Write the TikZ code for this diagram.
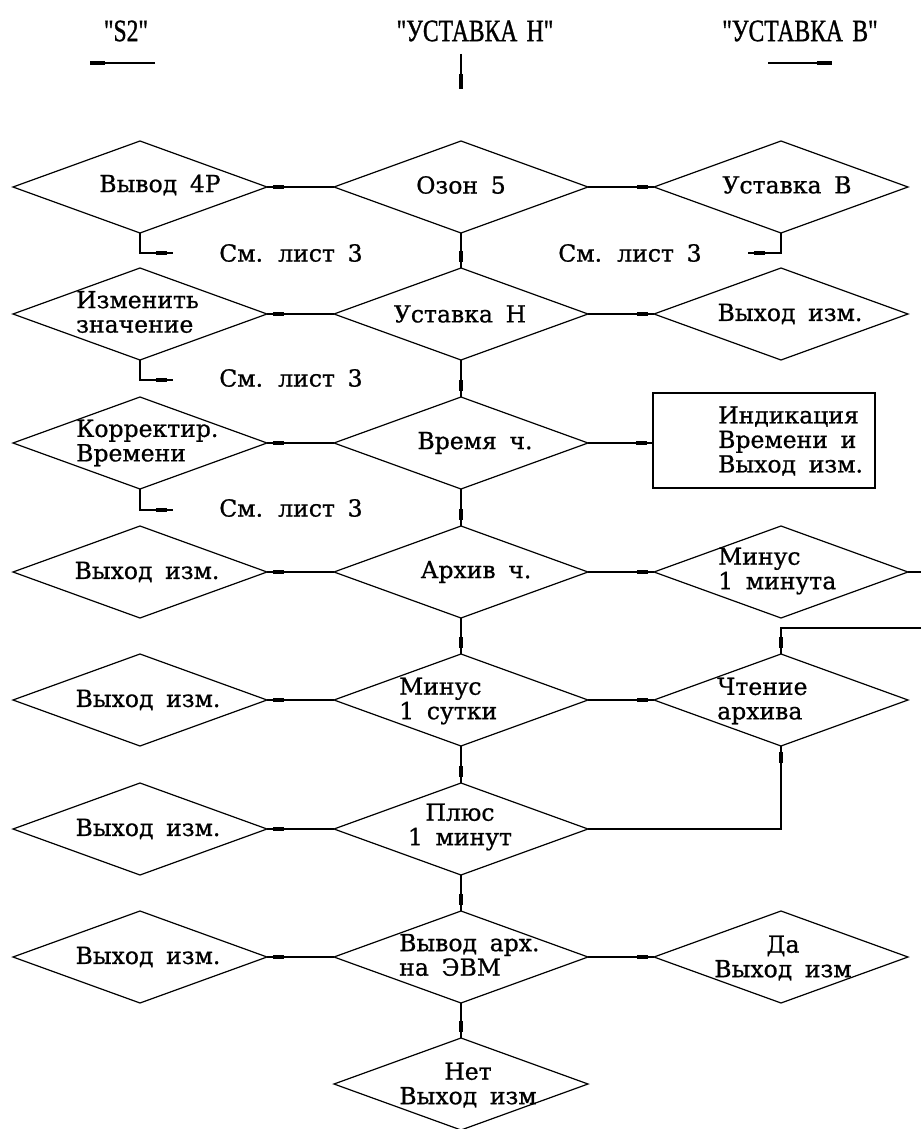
\documentclass[tikz,border=0pt]{standalone}
\usepackage{fontspec}
\setmainfont{DejaVu Serif}[WordSpace=1.7,FakeBold=0.8]
\newfontfamily\toplab{Liberation Serif}[FakeStretch=0.76,WordSpace=1.6,FakeBold=1]
\usetikzlibrary{shapes.geometric,decorations.markings}
\begin{document}
\begin{tikzpicture}[x=1pt,y=-1pt,
  dia/.style={draw, diamond, minimum width=254pt, minimum height=92pt, inner sep=0pt, outer sep=0pt, line width=1.2pt},
  boxn/.style={draw, rectangle, minimum width=222pt, minimum height=95pt, inner sep=0pt, outer sep=0pt, line width=1.2pt},
  txt/.style={inner sep=0pt, font=\fontsize{23.5}{24.5}\selectfont, align=left},
  toptxt/.style={inner sep=0pt, font=\toplab\fontsize{31}{32}\selectfont},
  plain/.style={line width=1.2pt},
  flow/.style={line width=1.2pt, postaction={decorate}, decoration={markings, mark=at position 1 with {\fill (-17pt,-1.7pt) rectangle (-6pt,1.7pt);}}},
  flowend/.style={line width=1.2pt, postaction={decorate}, decoration={markings, mark=at position 1 with {\fill (-15pt,-1.7pt) rectangle (0pt,1.7pt);}}},
  ]
\useasboundingbox (0,0) rectangle (921,1129);

% top labels
\node[toptxt] (lS) at (126,31) {"S2"};
\node[toptxt] (lH) at (475,31) {"УСТАВКА Н"};
\node[toptxt] (lB) at (800,31) {"УСТАВКА В"};
\coordinate (aS1) at (155,63); \coordinate (aS2) at (90,63);
\coordinate (aH1) at (461,54); \coordinate (aH2) at (461,89);
\coordinate (aB1) at (768,63); \coordinate (aB2) at (832,63);
\draw[flowend] (aS1) -- (aS2);
\draw[flowend] (aH1) -- (aH2);
\draw[flowend] (aB1) -- (aB2);

% diamonds
\node[dia] (d11) at (140,187) {};
\node[dia] (d12) at (461,187) {};
\node[dia] (d13) at (781,187) {};
\node[dia] (d21) at (140,314) {};
\node[dia] (d22) at (461,314) {};
\node[dia] (d23) at (781,314) {};
\node[dia] (d31) at (140,443) {};
\node[dia] (d32) at (461,443) {};
\node[boxn] (b33) at (764,440.5) {};
\node[dia] (d41) at (140,572) {};
\node[dia] (d42) at (461,572) {};
\node[dia] (d43) at (781,572) {};
\node[dia] (d51) at (140,700) {};
\node[dia] (d52) at (461,700) {};
\node[dia] (d53) at (781,700) {};
\node[dia] (d61) at (140,829) {};
\node[dia] (d62) at (461,829) {};
\node[dia] (d71) at (140,957) {};
\node[dia] (d72) at (461,957) {};
\node[dia] (d73) at (781,957) {};
\node[dia] (d82) at (461,1084) {};

% texts
\node[txt] (t11) at (160,185) {Вывод 4Р};
\node[txt] (t12) at (461,185) {Озон 5};
\node[txt] (t13) at (787,185) {Уставка В};
\node[txt] (s1) at (291,253) {См. лист 3};
\node[txt] (s2) at (630,253) {См. лист 3};
\node[txt,anchor=west] (t21) at (76,312) {Изменить\\значение};
\node[txt] (t22) at (460,314) {Уставка Н};
\node[txt] (t23) at (790,314) {Выход изм.};
\node[txt] (s3) at (291,378) {См. лист 3};
\node[txt,anchor=west] (t31) at (76,443) {Корректир.\\Времени};
\node[txt] (t32) at (475,443) {Время ч.};
\node[txt,anchor=west] (t33) at (718,441) {Индикация\\Времени и\\Выход изм.};
\node[txt] (s4) at (291,508) {См. лист 3};
\node[txt] (t41) at (147,572) {Выход изм.};
\node[txt] (t42) at (476,572) {Архив ч.};
\node[txt,anchor=west] (t43) at (718,571) {Минус\\1 минута};
\node[txt] (t51) at (148,700) {Выход изм.};
\node[txt,anchor=west] (t52) at (399,701) {Минус\\1 сутки};
\node[txt,anchor=west] (t53) at (717,701) {Чтение\\архива};
\node[txt] (t61) at (148,829) {Выход изм.};
\node[txt,align=center] (t62) at (460,827) {Плюс\\1 минут};
\node[txt] (t71) at (148,957) {Выход изм.};
\node[txt,anchor=west] (t72) at (399,955) {Вывод арх.\\на ЭВМ};
\node[txt,align=center] (t73) at (783,958) {Да\\Выход изм};
\node[txt,align=center] (t82) at (468,1085) {Нет\\Выход изм};

% connectors
\coordinate (h1) at (173,253);
\coordinate (h2) at (748,253);
\coordinate (h3) at (173,380);
\coordinate (h4) at (173,510);
\coordinate (e1) at (921,572);
\coordinate (e2) at (921,628);

\draw[flow] (d12.west) -- (d11.east);
\draw[flow] (d12.east) -- (d13.west);
\draw[flow] (d12.south) -- (d22.north);
\draw[flow] (d11.south) |- (h1);
\draw[flow] (d13.south) |- (h2);

\draw[flow] (d22.west) -- (d21.east);
\draw[flow] (d22.east) -- (d23.west);
\draw[flow] (d22.south) -- (d32.north);
\draw[flow] (d21.south) |- (h3);

\draw[flow] (d32.west) -- (d31.east);
\draw[flow] (d32.east) -- (d32.east -| b33.west);
\draw[flow] (d32.south) -- (d42.north);
\draw[flow] (d31.south) |- (h4);

\draw[flow] (d42.west) -- (d41.east);
\draw[flow] (d42.east) -- (d43.west);
\draw[flow] (d42.south) -- (d52.north);
\draw[plain] (d43.east) -- (e1);
\draw[flow] (e2) -| (d53.north);

\draw[flow] (d52.west) -- (d51.east);
\draw[flow] (d52.east) -- (d53.west);
\draw[flow] (d52.south) -- (d62.north);
\draw[flow] (d62.east) -| (d53.south);

\draw[flow] (d62.west) -- (d61.east);
\draw[flow] (d62.south) -- (d72.north);

\draw[flow] (d72.west) -- (d71.east);
\draw[flow] (d72.east) -- (d73.west);
\draw[flow] (d72.south) -- (d82.north);
\end{tikzpicture}
\end{document}
